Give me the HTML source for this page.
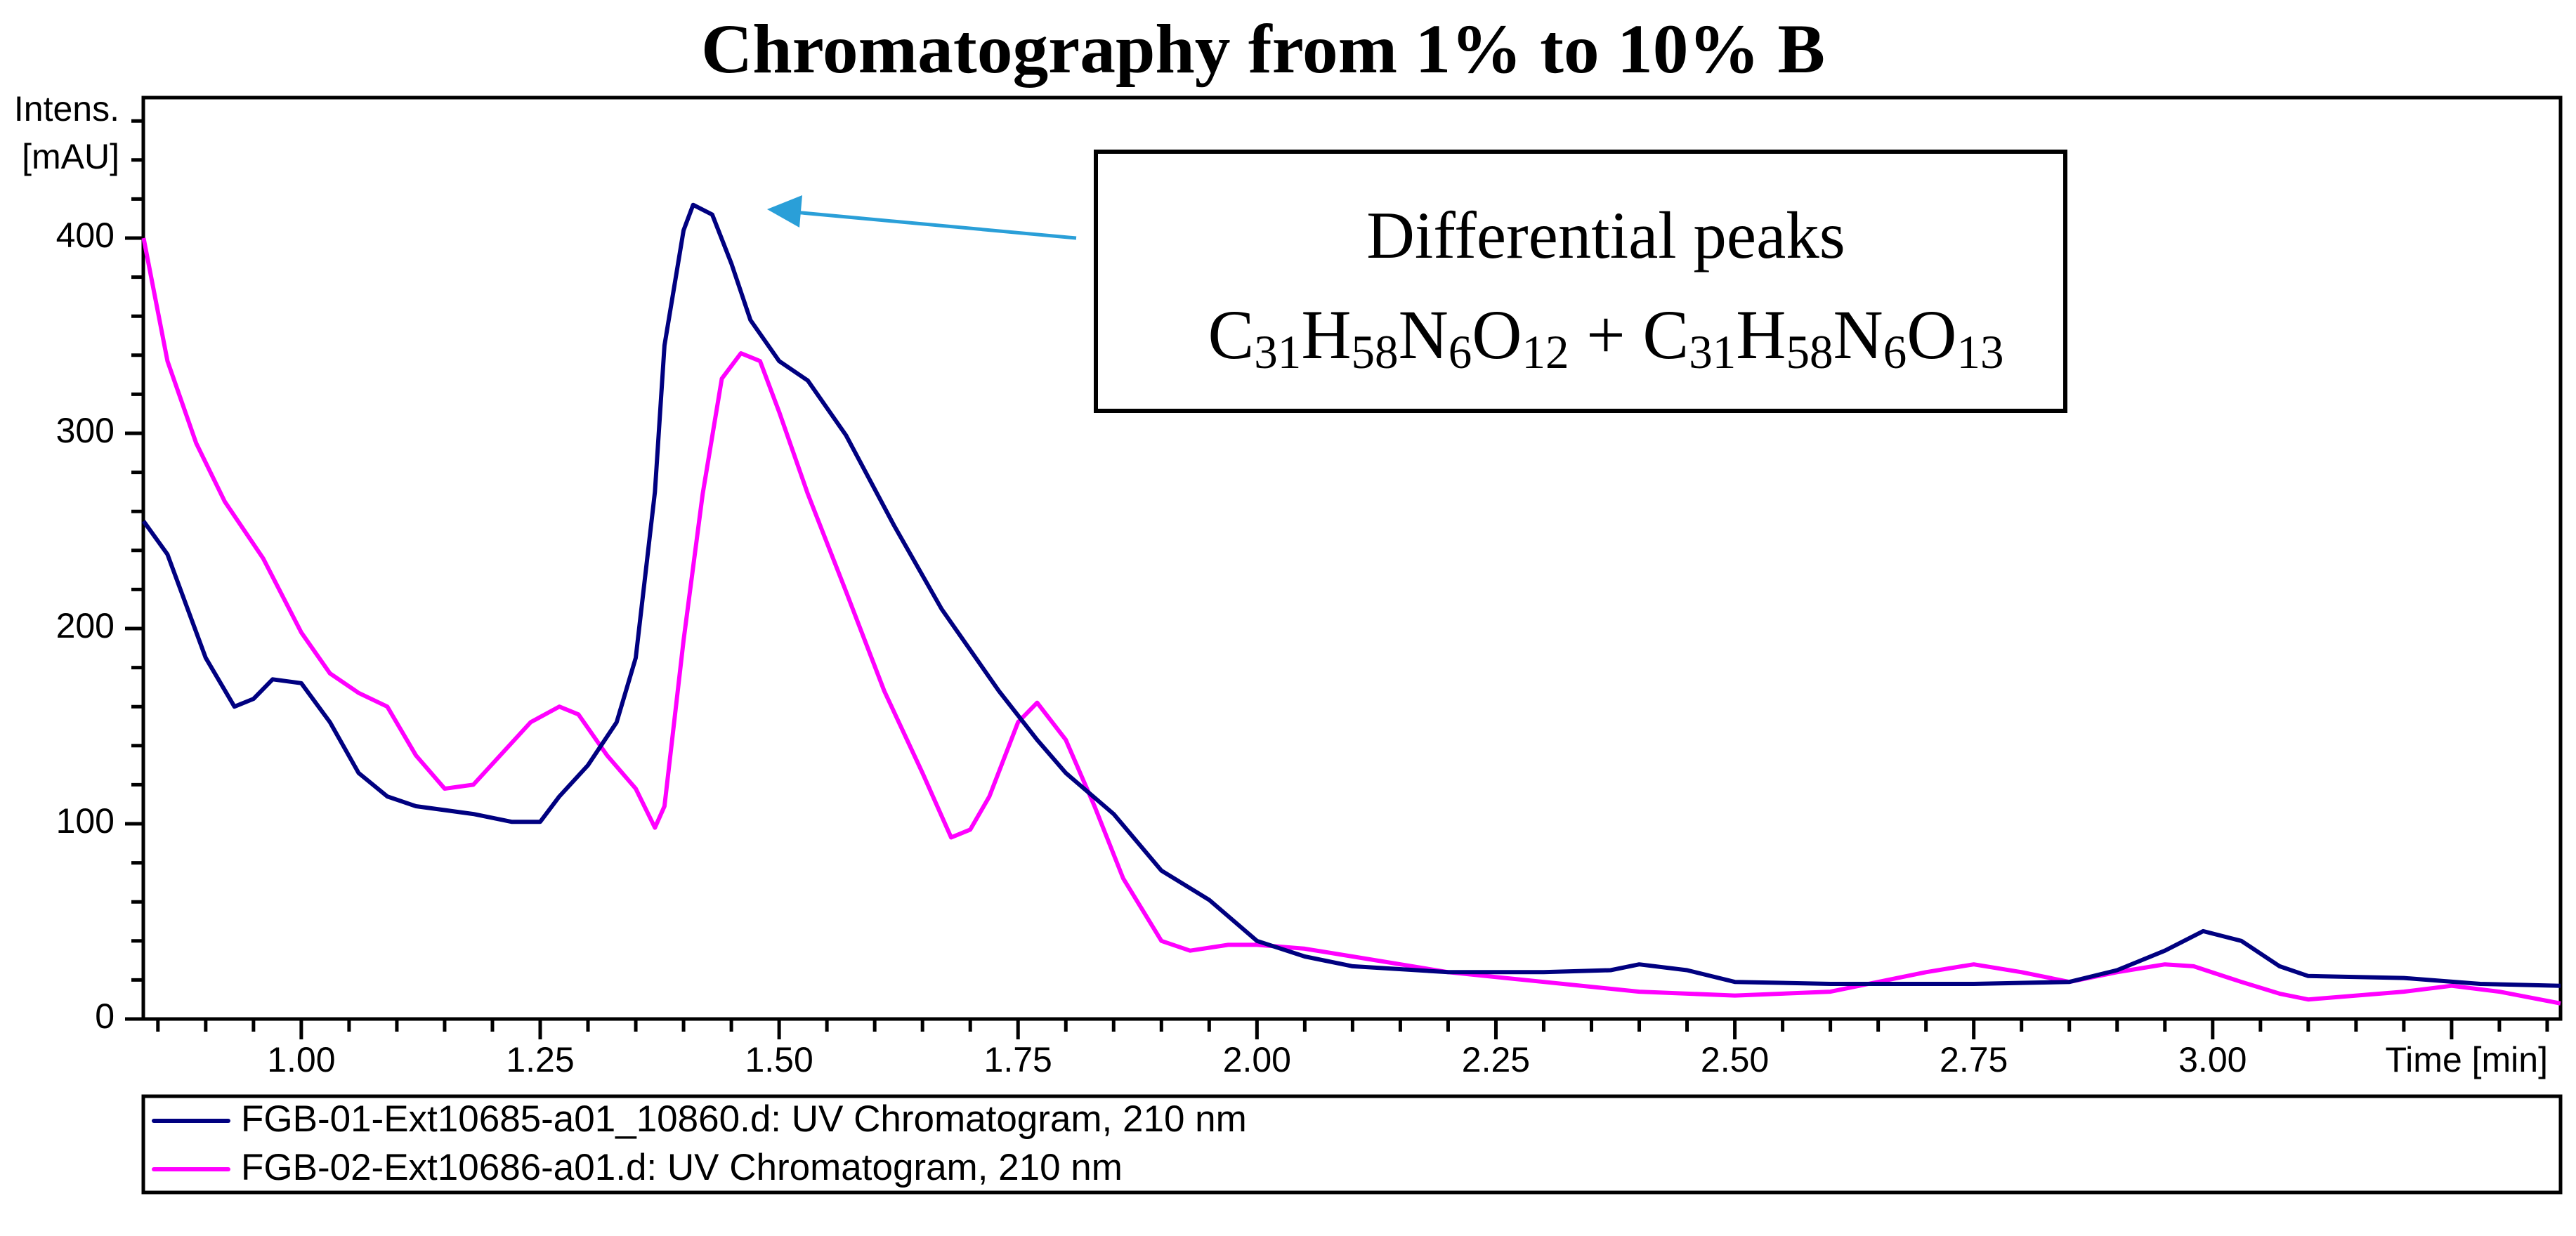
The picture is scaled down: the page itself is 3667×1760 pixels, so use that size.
<!DOCTYPE html>
<html><head><meta charset="utf-8"><style>
html,body{margin:0;padding:0;background:#fff}
svg{display:block}
</style></head><body>
<svg id="chart" width="3667" height="1760" viewBox="0 0 3667 1760" xmlns="http://www.w3.org/2000/svg">
<text x="1798" y="103" text-anchor="middle" font-family="Liberation Serif, serif" font-weight="bold" font-size="100" textLength="1600" lengthAdjust="spacingAndGlyphs">Chromatography from 1% to 10% B</text>
<rect x="204" y="139" width="3441" height="1312" fill="none" stroke="#000" stroke-width="5"/>
<g id="yaxis"></g>
<g id="xaxis"></g>
<text x="170" y="172" text-anchor="end" font-family="Liberation Sans, sans-serif" font-size="50">Intens.</text>
<text x="170" y="240" text-anchor="end" font-family="Liberation Sans, sans-serif" font-size="50">[mAU]</text>
<text x="3627" y="1526" text-anchor="end" font-family="Liberation Sans, sans-serif" font-size="50">Time [min]</text>
<g id="series"></g>
<g>
<rect x="1560" y="216" width="1380" height="369" fill="#fff" stroke="#000" stroke-width="6"/>
<text x="2286" y="367" text-anchor="middle" font-family="Liberation Serif, serif" font-size="95">Differential peaks</text>
<text x="2286" y="510" text-anchor="middle" font-family="Liberation Serif, serif" font-size="100" textLength="1133" lengthAdjust="spacingAndGlyphs">C<tspan font-size="68" dy="14">31</tspan><tspan dy="-14">H</tspan><tspan font-size="68" dy="14">58</tspan><tspan dy="-14">N</tspan><tspan font-size="68" dy="14">6</tspan><tspan dy="-14">O</tspan><tspan font-size="68" dy="14">12</tspan><tspan dy="-14"> + C</tspan><tspan font-size="68" dy="14">31</tspan><tspan dy="-14">H</tspan><tspan font-size="68" dy="14">58</tspan><tspan dy="-14">N</tspan><tspan font-size="68" dy="14">6</tspan><tspan dy="-14">O</tspan><tspan font-size="68" dy="14">13</tspan></text>
<line x1="1532" y1="339" x2="1130" y2="302" stroke="#2a9fd8" stroke-width="5"/>
<polygon points="1092,298 1142,278 1138,324" fill="#2a9fd8"/>
</g>
<g>
<rect x="204" y="1561" width="3441" height="137" fill="none" stroke="#000" stroke-width="5"/>
<line x1="219" y1="1596" x2="325" y2="1596" stroke="#000080" stroke-width="6" stroke-linecap="round"/>
<text x="343" y="1611" font-family="Liberation Sans, sans-serif" font-size="53">FGB-01-Ext10685-a01_10860.d: UV Chromatogram, 210 nm</text>
<line x1="219" y1="1665" x2="325" y2="1665" stroke="#ff00ff" stroke-width="6" stroke-linecap="round"/>
<text x="343" y="1680" font-family="Liberation Sans, sans-serif" font-size="53">FGB-02-Ext10686-a01.d: UV Chromatogram, 210 nm</text>
</g>
</svg>
<script>
const xTickLabels = ["1.00","1.25","1.50","1.75","2.00","2.25","2.50","2.75","3.00","3.25"];
const yTickLabels = ["0","100","200","300","400"];
const navyTimes = [0.835,0.86,0.90,0.93,0.95,0.97,1.00,1.03,1.06,1.09,1.12,1.18,1.22,1.25,1.27,1.30,1.33,1.35,1.37,1.38,1.40,1.41,1.43,1.45,1.47,1.50,1.53,1.57,1.62,1.67,1.73,1.77,1.80,1.85,1.90,1.95,2.00,2.05,2.10,2.20,2.30,2.37,2.40,2.45,2.50,2.60,2.75,2.85,2.90,2.95,2.99,3.03,3.07,3.10,3.20,3.28,3.364];
const navyValues = [255,238,185,160,164,174,172,152,126,114,109,105,101,101,114,130,152,185,270,345,404,417,412,387,358,337,327,299,253,210,168,143,126,105,76,61,40,32,27,24,24,25,28,25,19,18,18,19,25,35,45,40,27,22,21,18,17];
const magentaTimes = [0.835,0.86,0.89,0.92,0.96,1.00,1.03,1.06,1.09,1.12,1.15,1.18,1.21,1.24,1.27,1.29,1.32,1.35,1.37,1.38,1.40,1.42,1.44,1.46,1.48,1.50,1.53,1.57,1.61,1.65,1.68,1.70,1.72,1.75,1.77,1.80,1.83,1.86,1.90,1.93,1.97,2.00,2.05,2.10,2.20,2.30,2.40,2.50,2.60,2.70,2.75,2.80,2.85,2.90,2.95,2.98,3.03,3.07,3.10,3.20,3.25,3.30,3.364];
const magentaValues = [400,337,295,265,236,198,177,167,160,135,118,120,136,152,160,156,135,118,98,109,194,269,328,341,337,311,269,219,168,126,93,97,114,152,162,143,109,72,40,35,38,38,36,32,24,19,14,12,14,24,28,24,19,24,28,27,19,13,10,14,17,14,8];

const X0 = 204, X1 = 3645, Y0 = 1451;
const TMIN = 0.8347, TMAX = 3.364;
function xs(t){ return X0 + (t - TMIN) / (TMAX - TMIN) * (X1 - X0); }
function ys(v){ return Y0 - v * 2.78; }
const NS = "http://www.w3.org/2000/svg";
function mk(tag, attrs, parent){ const e = document.createElementNS(NS, tag); for (const k in attrs) e.setAttribute(k, attrs[k]); parent.appendChild(e); return e; }

const yaxis = document.getElementById('yaxis');
for (let v = 0; v <= 460; v += 20) {
  const major = v % 100 === 0;
  const tk = mk('line', {x1: major ? 178 : 187, x2: 204, y1: ys(v), y2: ys(v), stroke: '#000', 'stroke-width': 5}, yaxis);
  
  
}
yTickLabels.forEach(function(lbl){
  const t = mk('text', {x: 163, y: ys(parseFloat(lbl)) + 13, 'text-anchor': 'end', 'font-family': 'Liberation Sans, sans-serif', 'font-size': 50}, yaxis);
  t.textContent = lbl;
  
  
});

const xaxis = document.getElementById('xaxis');
for (let i = 17; i <= 67; i++) {
  const t = i * 0.05;
  if (t > TMAX) break;
  const major = i % 5 === 0;
  const tk = mk('line', {x1: xs(t), x2: xs(t), y1: 1451, y2: major ? 1480 : 1469, stroke: '#000', 'stroke-width': 5}, xaxis);
  
  
}
xTickLabels.forEach(function(lbl){
  if (lbl === "3.25") return;
  const t = mk('text', {x: xs(parseFloat(lbl)), y: 1526, 'text-anchor': 'middle', 'font-family': 'Liberation Sans, sans-serif', 'font-size': 50}, xaxis);
  t.textContent = lbl;
  
  
});

const series = document.getElementById('series');
function drawLine(times, vals, color, name){
  const pts = times.map(function(t, i){ return xs(t).toFixed(1) + ',' + ys(vals[i]).toFixed(1); }).join(' ');
  const p = mk('polyline', {points: pts, fill: 'none', stroke: color, 'stroke-width': 6, 'stroke-linejoin': 'round'}, series);
  
  
}
drawLine(magentaTimes, magentaValues, '#ff00ff', 'series-fgb-02');
drawLine(navyTimes, navyValues, '#000080', 'series-fgb-01');
</script>
</body></html>
